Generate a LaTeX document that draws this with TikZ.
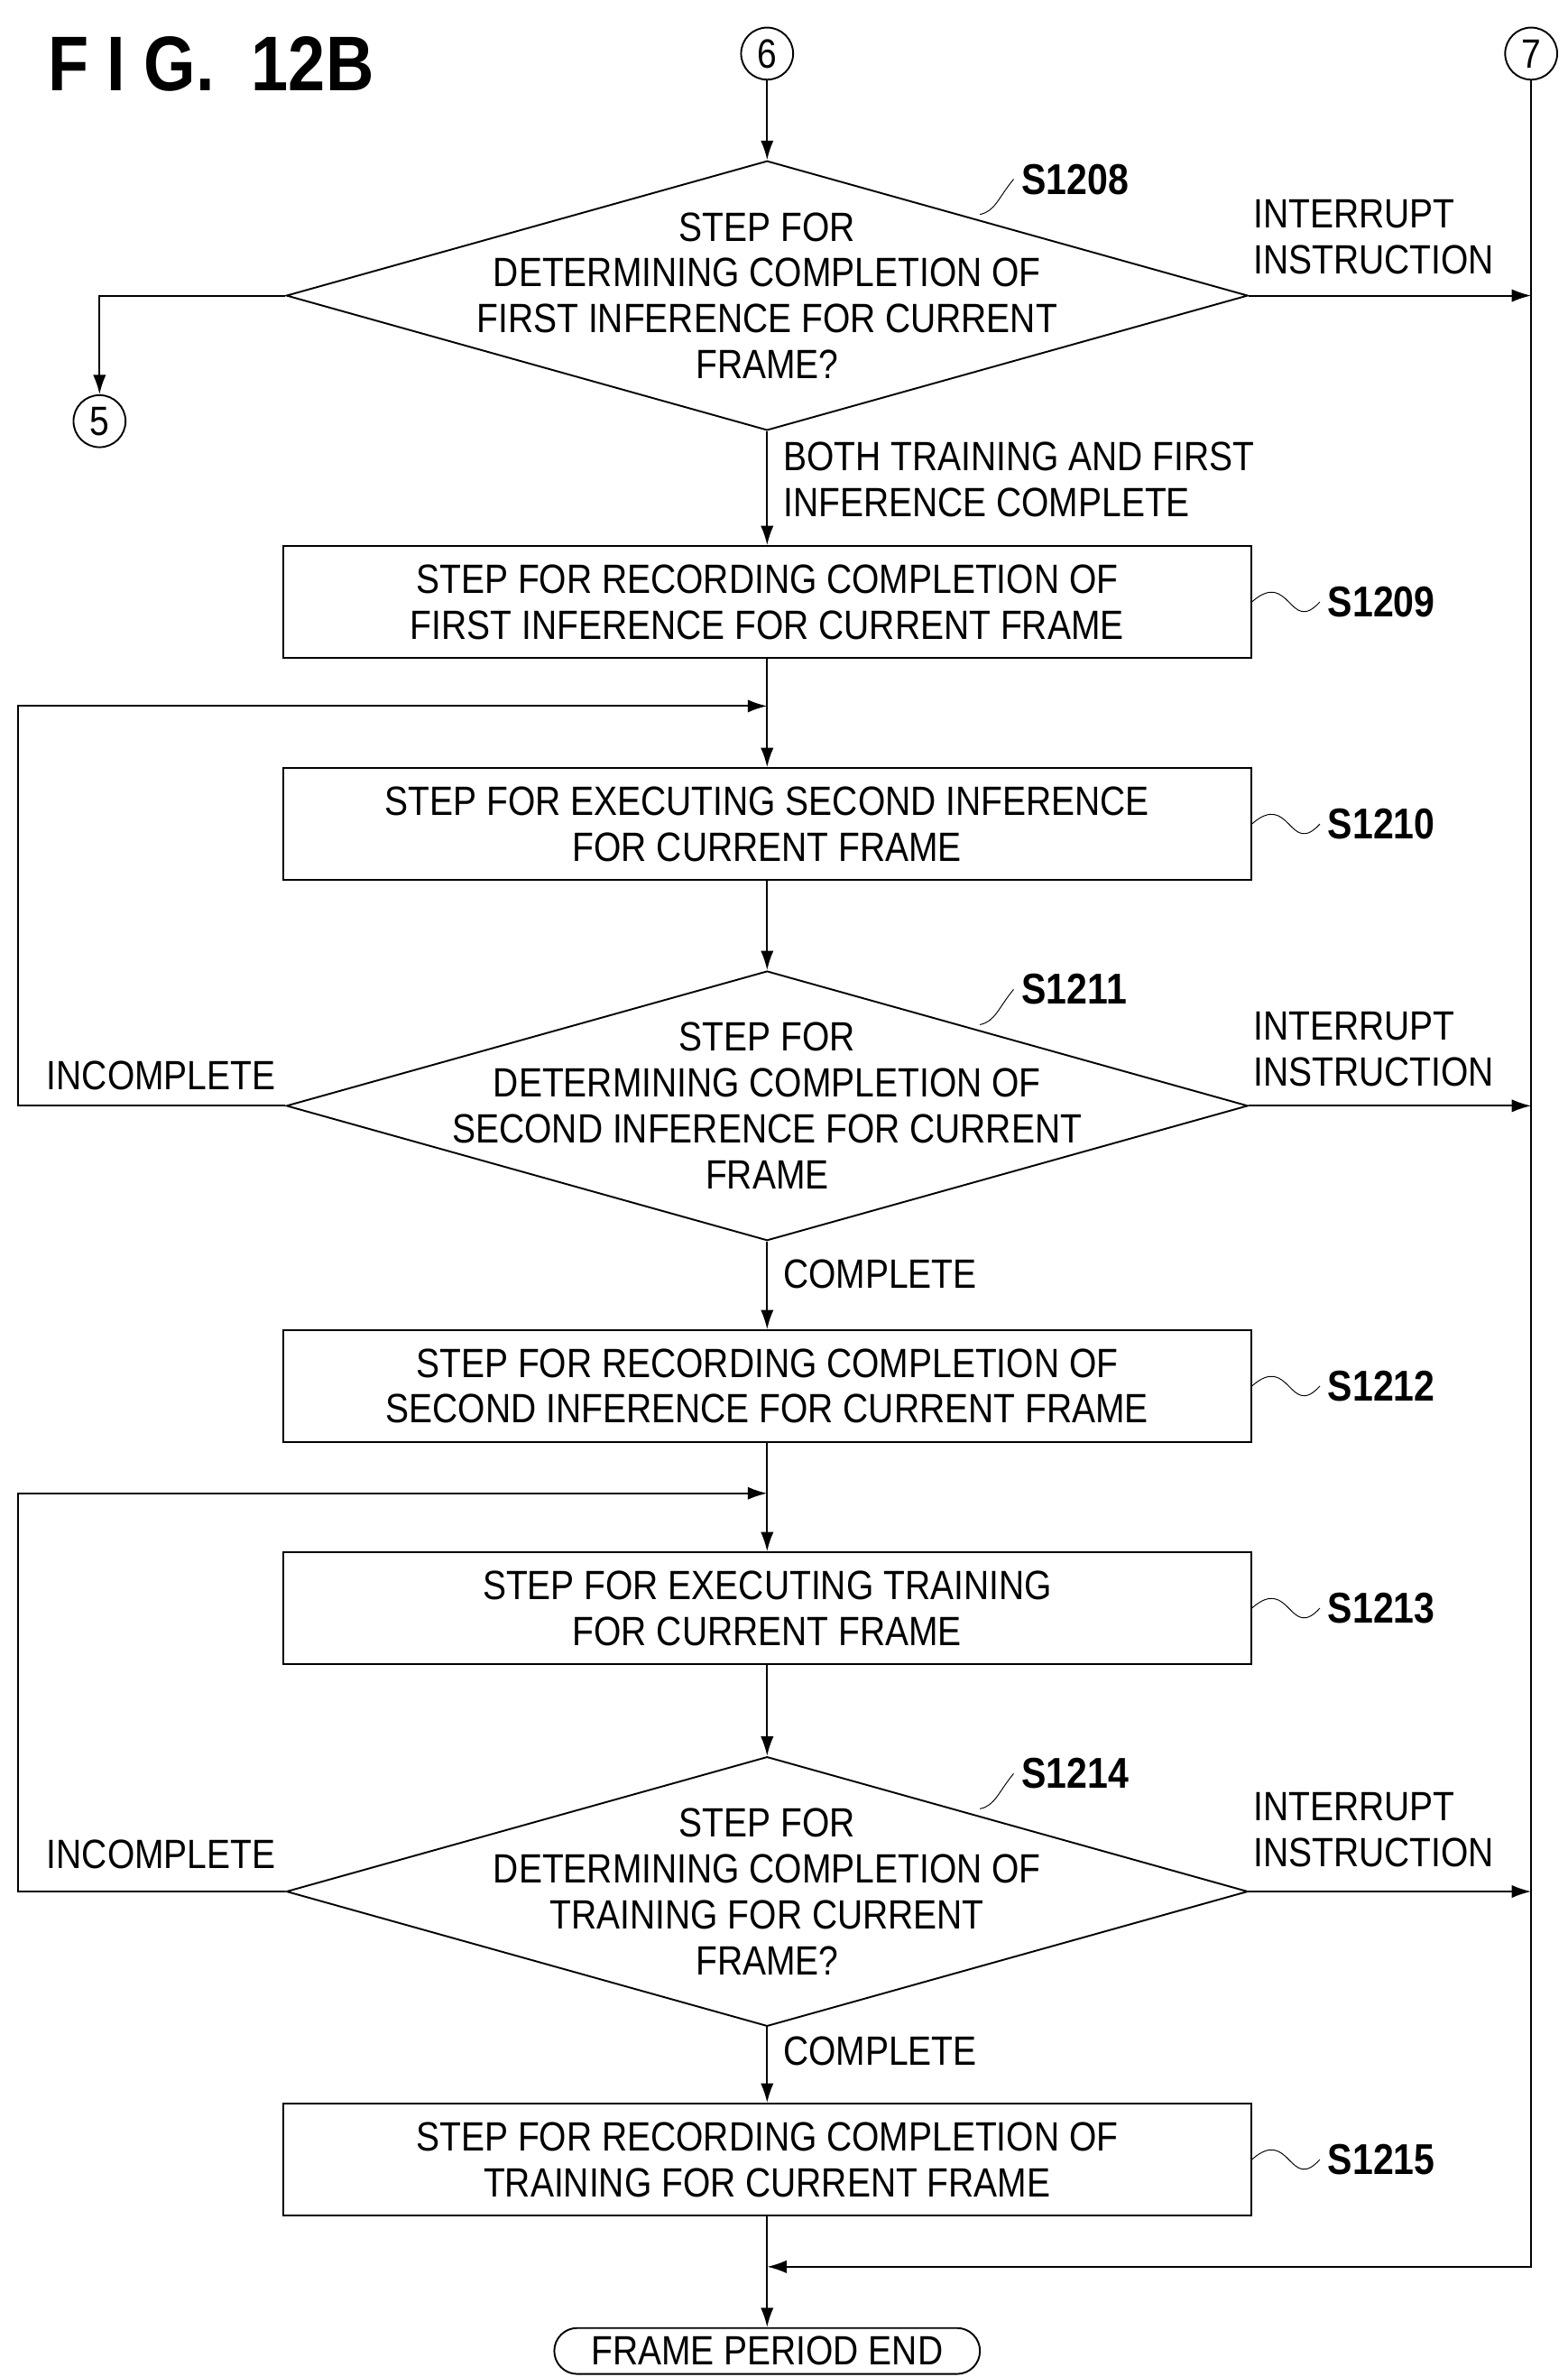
\documentclass[tikz,border=0pt]{standalone}
\usepackage{fontspec}
\setmainfont{Liberation Sans}[FakeStretch=0.86]
\usetikzlibrary{shapes.geometric,arrows.meta}
\begin{document}
\begin{tikzpicture}[x=0.025cm,y=-0.025cm,thick,font=\fontsize{19}{21.3}\selectfont]
        %
        % `stepbox' is used for the process boxes.
        % `decide' is used for the decision diamonds (text is put on top).
        % `conn' is used for the circled connectors.
        \tikzstyle{stepbox} = [draw,minimum width=632*0.025cm,minimum height=73*0.025cm,align=center,inner sep=0pt]
        \tikzstyle{decide} = [draw,diamond,minimum width=628*0.025cm,minimum height=176*0.025cm,inner sep=0pt]
        \tikzstyle{conn} = [draw,circle,minimum size=34*0.025cm,inner sep=0pt]
        \tikzstyle{lbl} = [align=left,inner sep=0pt]
        \tikzstyle{sname} = [anchor=west,font=\fontsize{20}{22}\bfseries\selectfont]
        \tikzstyle{arr} = [-{Latex[length=9pt,width=6pt]}]
        \useasboundingbox (0,0) rectangle (1024,1552);
        %
        % Title
        \node[anchor=west,font=\fontsize{36}{40}\bfseries\selectfont] (title) at (26,42) {F I G.\ \ 12B};
        %
        % Connectors
        \node[conn] (c6) at (501,35) {6};
        \node[conn] (c7) at (1000,35) {7};
        \node[conn] (c5) at (65,275) {5};
        %
        % Column
        \node[decide] (d1208) at (501,193) {};
        \node[align=center] (t1208) at (d1208) {STEP FOR\\DETERMINING COMPLETION OF\\FIRST INFERENCE FOR CURRENT\\FRAME?};
        \node[stepbox] (s1209) at (501,393) {STEP FOR RECORDING COMPLETION OF\\FIRST INFERENCE FOR CURRENT FRAME};
        \node[stepbox] (s1210) at (501,538) {STEP FOR EXECUTING SECOND INFERENCE\\FOR CURRENT FRAME};
        \node[decide] (d1211) at (501,722) {};
        \node[align=center] (t1211) at (d1211) {STEP FOR\\DETERMINING COMPLETION OF\\SECOND INFERENCE FOR CURRENT\\FRAME};
        \node[stepbox] (s1212) at (501,905) {STEP FOR RECORDING COMPLETION OF\\SECOND INFERENCE FOR CURRENT FRAME};
        \node[stepbox] (s1213) at (501,1050) {STEP FOR EXECUTING TRAINING\\FOR CURRENT FRAME};
        \node[decide] (d1214) at (501,1235) {};
        \node[align=center] (t1214) at (d1214) {STEP FOR\\DETERMINING COMPLETION OF\\TRAINING FOR CURRENT\\FRAME?};
        \node[stepbox] (s1215) at (501,1410) {STEP FOR RECORDING COMPLETION OF\\TRAINING FOR CURRENT FRAME};
        \node[draw,rounded corners=15*0.025cm,minimum width=278*0.025cm,minimum height=30*0.025cm,inner sep=0pt] (end) at (501,1535) {FRAME PERIOD END};
        %
        % Step labels
        \node[sname] (l1208) at (662,117) {S1208};
        \node[sname] (l1209) at (862,393) {S1209};
        \node[sname] (l1210) at (862,538) {S1210};
        \node[sname] (l1211) at (662,646) {S1211};
        \node[sname] (l1212) at (862,905) {S1212};
        \node[sname] (l1213) at (862,1050) {S1213};
        \node[sname] (l1214) at (662,1158) {S1214};
        \node[sname] (l1215) at (862,1410) {S1215};
        \foreach \s in {1209,1210,1212,1213,1215}
          \draw[thin] (s\s.east) .. controls +(25,-22) and +(-20,22) .. (l\s.west);
        \foreach \s/\x/\y in {1208/640/140,1211/640/669,1214/640/1181}
          \draw[thin] (\x,\y) .. controls +(10,-2) and +(-10,12) .. (l\s.west);
        %
        % Edge labels
        \node[lbl,anchor=north west] (i1) at (818,130) {INTERRUPT\\INSTRUCTION};
        \node[lbl,anchor=north west] (i2) at (818,660) {INTERRUPT\\INSTRUCTION};
        \node[lbl,anchor=north west] (i3) at (818,1170) {INTERRUPT\\INSTRUCTION};
        \node[lbl,anchor=north west] (both) at (511,288) {BOTH TRAINING AND FIRST\\INFERENCE COMPLETE};
        \node[lbl,anchor=north west] (cp1) at (511,822) {COMPLETE};
        \node[lbl,anchor=north west] (cp2) at (511,1329) {COMPLETE};
        \node[lbl,anchor=north west] (inc1) at (30,692) {INCOMPLETE};
        \node[lbl,anchor=north west] (inc2) at (30,1201) {INCOMPLETE};
        %
        % Join points
        \coordinate (j1) at (501,461);
        \coordinate (j2) at (501,975);
        \coordinate (j3) at (501,1480);
        \coordinate (r1) at (1000,193);
        \coordinate (r2) at (1000,722);
        \coordinate (r3) at (1000,1235);
        %
        % Main flow
        \draw[arr] (c6) -- (d1208.north);
        \draw[arr] (d1208.south) -- (s1209.north);
        \draw[arr] (s1209.south) -- (s1210.north);
        \draw[arr] (s1210.south) -- (d1211.north);
        \draw[arr] (d1211.south) -- (s1212.north);
        \draw[arr] (s1212.south) -- (s1213.north);
        \draw[arr] (s1213.south) -- (d1214.north);
        \draw[arr] (d1214.south) -- (s1215.north);
        \draw[arr] (s1215.south) -- (end.north);
        %
        % Branches
        \draw[arr] (d1208.west) -| (c5.north);
        \draw[arr] (d1211.west) -- (12,722) -- (12,461) -- (j1);
        \draw[arr] (d1214.west) -- (12,1235) -- (12,975) -- (j2);
        \draw[arr] (d1208.east) -- (r1);
        \draw[arr] (d1211.east) -- (r2);
        \draw[arr] (d1214.east) -- (r3);
        \draw[arr] (c7.south) -- (1000,1480) -- (j3);
        %
\end{tikzpicture}
\end{document}
